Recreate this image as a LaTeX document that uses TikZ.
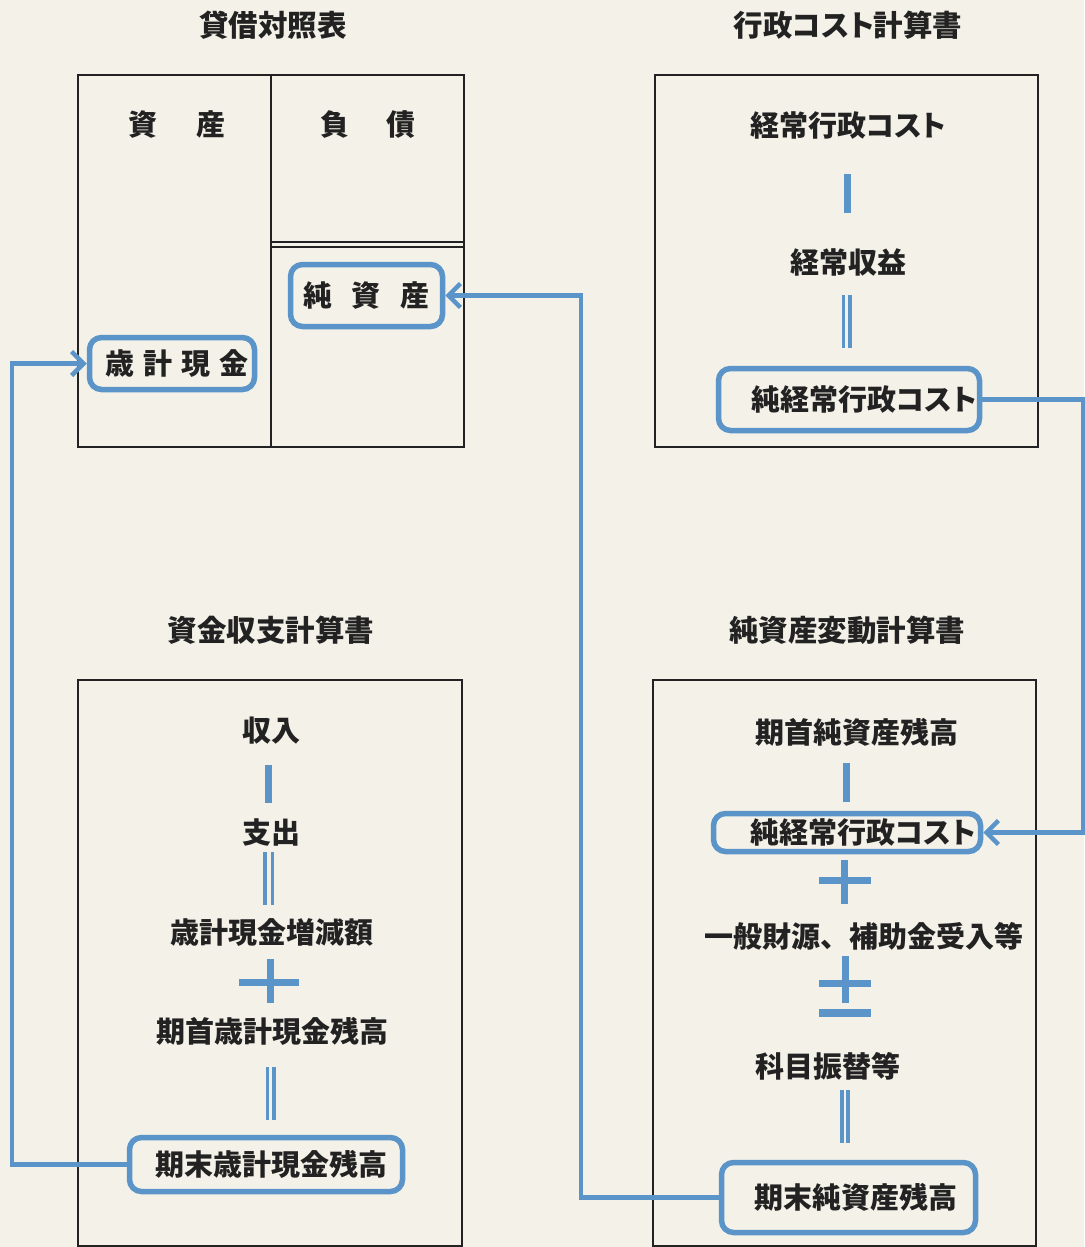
\documentclass[tikz,border=0pt]{standalone}
\usepackage{fontspec}
\usetikzlibrary{arrows.meta}
\newfontfamily\jpf{Noto Sans CJK JP}
\newfontfamily\jpk{Noto Sans CJK JP}[RawFeature=+palt]
\definecolor{bgc}{RGB}{244,241,232}
\definecolor{myblue}{RGB}{90,148,200}
\definecolor{ink}{RGB}{34,34,34}
\newcommand\fsz{\fontsize{29}{30}\selectfont}
\newcommand\tsz{\fontsize{29.5}{31}\selectfont}
\tikzset{
  frame/.style={draw=ink, line width=2.5pt},
  bluebox/.style={draw=myblue, line width=5.5pt, rounded corners=12pt, inner sep=0pt, text=ink, font=\jpf\bfseries\fsz},
  lbl/.style={inner sep=0pt, text=ink, font=\jpf\bfseries\fsz},
  lblk/.style={inner sep=0pt, text=ink, font=\jpk\bfseries\fsz},
  ttl/.style={inner sep=0pt, text=ink, font=\jpf\bfseries\tsz},
  ttlk/.style={inner sep=0pt, text=ink, font=\jpk\bfseries\tsz},
  conn/.style={draw=myblue, line width=4.5pt},
  arr/.style={-{Straight Barb[length=12pt,width=24pt]}},
  bar/.style={draw=myblue, line width=7pt},
  dbar/.style={draw=myblue, line width=3.5pt},
}
\begin{document}
\begin{tikzpicture}[x=1pt,y=-1pt]
\fill[bgc] (0,0) rectangle (1084,1247);
\useasboundingbox (0,0) rectangle (1084,1247);

% ---------- titles
\node[ttl] (t1) at (273,25) {貸借対照表};
\node[ttlk] (t2) at (848,25) {行政コスト計算書};
\node[ttl] (t3) at (271,630) {資金収支計算書};
\node[ttl] (t4) at (847,630) {純資産変動計算書};

% ---------- balance sheet
\draw[frame] (78,75) rectangle (464,447);
\draw[frame] (271,75) -- (271,447);
\draw[draw=ink, line width=2pt] (271,241.5) -- (464,241.5);
\draw[draw=ink, line width=2pt] (271,246.5) -- (464,246.5);
\node[lbl] (shisan) at (177,125) {資\hspace{39pt}産};
\node[lbl] (fusai) at (368,125) {負\hspace{38pt}債};
\node[bluebox, minimum width=152pt, minimum height=62pt] (js) at (366.5,295.5)
  {純\hspace{20pt}資\hspace{20pt}産};
\node[bluebox, minimum width=165pt, minimum height=52pt] (gk) at (172,363.5)
  {\hspace*{10pt}歳\hspace{9pt}計\hspace{9pt}現\hspace{9pt}金};

% ---------- administrative cost statement
\draw[frame] (655,75) rectangle (1038,447);
\node[lblk] (kc) at (848,126) {経常行政コスト};
\draw[bar] (847.5,174) -- (847.5,213);
\node[lbl] (ks) at (848,262) {経常収益};
\draw[dbar] (843.5,295) -- (843.5,348);
\draw[dbar] (850,295) -- (850,348);
\node[bluebox, minimum width=261pt, minimum height=62pt] (kc1) at (849,399.5)
  {\hspace*{30pt}{\jpk\bfseries\fsz 純経常行政コスト}};

% ---------- cash flow statement
\draw[frame] (78,680) rectangle (462,1246);
\node[lbl] (sy) at (271,731) {収入};
\draw[bar] (268,765) -- (268,803);
\node[lbl] (ss) at (271,832) {支出};
\draw[dbar] (265,852) -- (265,905);
\draw[dbar] (272.5,852) -- (272.5,905);
\node[lbl] (zg) at (272,932) {歳計現金増減額};
\draw[bar] (239,982) -- (299,982);
\draw[bar] (270.5,959) -- (270.5,1003);
\node[lbl] (kshg) at (272,1031) {期首歳計現金残高};
\draw[dbar] (267.5,1067) -- (267.5,1120);
\draw[dbar] (274,1067) -- (274,1120);
\node[bluebox, minimum width=273pt, minimum height=54pt] (kg) at (266,1164.5)
  {\hspace*{10pt}期末歳計現金残高};

% ---------- net assets statement
\draw[frame] (653,680) rectangle (1036,1246);
\node[lbl] (kj0) at (857,732) {期首純資産残高};
\draw[bar] (846,763) -- (846,802);
\node[bluebox, minimum width=267pt, minimum height=38pt] (kc2) at (847,832.5)
  {\hspace*{32pt}{\jpk\bfseries\fsz 純経常行政コスト}};
\draw[bar] (819,880) -- (871,880);
\draw[bar] (844,860) -- (844,904);
\node[lbl] (ip) at (864,936) {一般財源、補助金受入等};
\draw[bar] (819,983) -- (871,983);
\draw[bar] (845.5,956) -- (845.5,1003);
\draw[draw=myblue, line width=8pt] (819,1013) -- (871,1013);
\node[lbl] (kf) at (828,1066) {科目振替等};
\draw[dbar] (842,1090) -- (842,1143);
\draw[dbar] (848,1090) -- (848,1143);
\node[bluebox, minimum width=254pt, minimum height=70pt] (kj) at (848.5,1197.5)
  {\hspace*{15pt}期末純資産残高};

% ---------- connectors
\draw[conn,arr] (kg.west) -- ++(-115,0) |- (gk.west);
\draw[conn,arr] (kj.west) -- ++(-138,0) |- (js.east);
\draw[conn,arr] (kc1.east) -- ++(101,0) |- (kc2.east);
\end{tikzpicture}
\end{document}
